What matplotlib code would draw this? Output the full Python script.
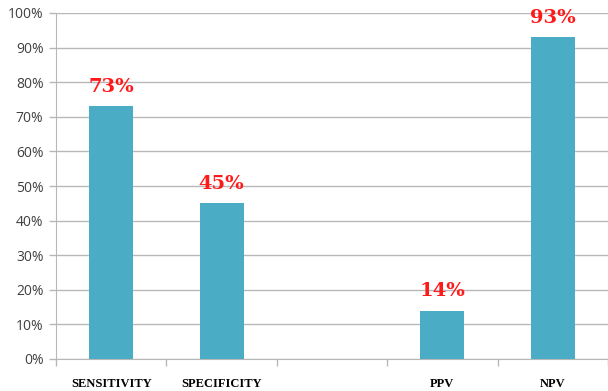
import numpy as np
import matplotlib.pyplot as plt

# diagnostic accuracy measures; the empty slot is left blank on purpose
categories = ["SENSITIVITY", "SPECIFICITY", "", "PPV", "NPV"]
values = [73, 45, None, 14, 93]
y_ticks = list(range(0, 101, 10))

BAR_COLOR = "#4BACC6"
GRID_COLOR = "#b8b8b8"

fig = plt.figure(figsize=(6.08, 3.91), dpi=100)
ax = fig.add_axes([56 / 608, 32 / 391, 552 / 608, 346 / 391])

x = np.arange(len(categories))
for xi, v in zip(x, values):
    if v is None:
        continue
    ax.bar(xi, v, width=0.4, color=BAR_COLOR, zorder=3)
    ax.text(xi, v + 3, f"{v}%", ha="center", va="bottom", color="#ff1a1a",
            fontsize=14, fontweight="bold", family="DejaVu Serif")

ax.set_xlim(-0.5, 4.5)
ax.set_ylim(0, 100)
ax.set_yticks(y_ticks)
ax.set_yticklabels([f"{t}%" for t in y_ticks], fontsize=10, color="#404040",
                   family="Open Sans")
ax.yaxis.grid(True, color=GRID_COLOR, linewidth=1.0, zorder=0)

# category labels sit between the boundary ticks
ax.set_xticks(x)
ax.set_xticklabels(categories, fontsize=9, fontweight="bold",
                   family="Liberation Serif")
ax.tick_params(axis="x", length=0, pad=14)
ax.set_xticks(np.arange(-0.5, 5.0, 1.0), minor=True)
ax.tick_params(axis="x", which="minor", length=5, color=GRID_COLOR, width=1)
ax.tick_params(axis="y", length=5, color=GRID_COLOR, width=1, pad=4)

for side in ["top", "right"]:
    ax.spines[side].set_visible(False)
ax.spines["left"].set_color(GRID_COLOR)
ax.spines["bottom"].set_color(GRID_COLOR)

fig.savefig("out.png", dpi=100)
